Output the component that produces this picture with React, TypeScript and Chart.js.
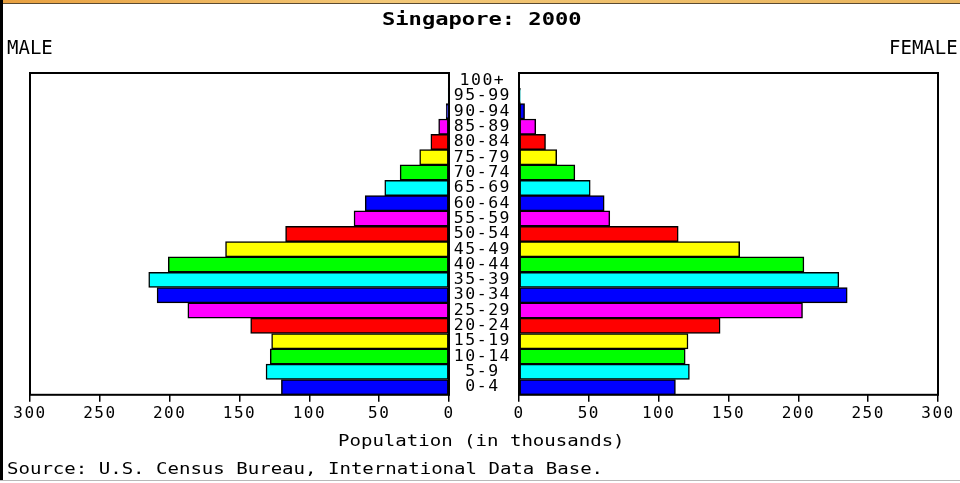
import React, { useEffect, useRef } from "react";
import { Chart, registerables } from "chart.js";

Chart.register(...registerables);

// ---- data (bottom to top) ----
const ageGroups = [
  "0-4", "5-9", "10-14", "15-19", "20-24", "25-29", "30-34", "35-39", "40-44", "45-49",
  "50-54", "55-59", "60-64", "65-69", "70-74", "75-79", "80-84", "85-89", "90-94", "95-99", "100+",
];
const maleValues = [120, 131, 128, 127, 142, 187, 209, 215, 201, 160, 117, 68, 60, 46, 35, 21, 13, 7.4, 2, 0.6, 0.2];
const femaleValues = [112, 122, 119, 121, 144, 203, 235, 229, 204, 158, 114, 65, 61, 51, 40, 27, 19, 12, 4, 1, 0.3];
const axisMax = 300;
const axisStep = 50;
const titleText = "Singapore: 2000";
const maleLabel = "MALE";
const femaleLabel = "FEMALE";
const axisTitle = "Population (in thousands)";
const sourceText = "Source: U.S. Census Bureau, International Data Base.";

const palette = ["#0000ff", "#00ffff", "#00ff00", "#ffff00", "#ff0000", "#ff00ff"];
const barColors = ageGroups.map((_, i) => palette[i % palette.length]);

const FONT = "'DejaVu Sans Mono', monospace";
const SPACING = "1.5px";

const spacingPlugin = {
  id: "letterSpacing",
  beforeUpdate(chart: any) {
    chart.ctx.letterSpacing = SPACING;
  },
  beforeLayout(chart: any) {
    chart.ctx.letterSpacing = SPACING;
  },
  beforeDraw(chart: any) {
    chart.ctx.letterSpacing = SPACING;
  },
};

const boxPlugin = {
  id: "boxPlugin",
  afterDatasetsDraw(chart: any) {
    const { left, top, right, bottom } = chart.chartArea;
    const ctx = chart.ctx;
    ctx.save();
    ctx.strokeStyle = "#000";
    ctx.lineWidth = 2;
    ctx.strokeRect(left, top, right - left, bottom - top);
    ctx.restore();
  },
};

function makeChart(canvas: HTMLCanvasElement, isMale: boolean) {
  const yAxis: any = {
    type: "category",
    reverse: true,
    display: !isMale,
    position: "left",
    ticks: {
      autoSkip: false,
      color: "#000",
      font: { family: FONT, size: 16.5 },
      crossAlign: "center",
      padding: 8,
    },
    grid: { display: false, drawTicks: false },
    border: { display: false },
  };
  if (!isMale) {
    yAxis.afterFit = (s: any) => {
      s.width = 70;
    };
  }
  return new Chart(canvas, {
    type: "bar",
    data: {
      labels: ageGroups,
      datasets: [
        {
          label: isMale ? "Male" : "Female",
          data: isMale ? maleValues : femaleValues,
          backgroundColor: barColors,
          borderColor: "#000",
          borderWidth: 1.5,
          borderSkipped: false,
          barPercentage: 1,
          categoryPercentage: 1,
        },
      ],
    },
    options: {
      indexAxis: "y",
      responsive: false,
      animation: false,
      events: [],
      layout: {
        padding: isMale
          ? { left: 30, right: 31, top: 73, bottom: 58 }
          : { left: 0, right: 22, top: 73, bottom: 58 },
      },
      plugins: {
        legend: { display: false },
        tooltip: { enabled: false },
      },
      scales: {
        x: {
          type: "linear",
          min: 0,
          max: axisMax,
          reverse: isMale,
          ticks: {
            stepSize: axisStep,
            color: "#000",
            font: { family: FONT, size: 16 },
            padding: 2,
            maxRotation: 0,
            autoSkip: false,
          },
          grid: {
            display: true,
            drawOnChartArea: false,
            drawTicks: true,
            tickLength: 7,
            color: "#000",
            lineWidth: 1.5,
          },
          border: { display: false },
        },
        y: yAxis,
      },
    } as any,
    plugins: [spacingPlugin, boxPlugin],
  });
}

const textBase: React.CSSProperties = {
  position: "absolute",
  fontFamily: FONT,
  fontSize: 16,
  lineHeight: "16px",
  color: "#000",
  whiteSpace: "nowrap",
  transformOrigin: "0 0",
};

export default function App() {
  const maleRef = useRef<HTMLCanvasElement>(null);
  const femaleRef = useRef<HTMLCanvasElement>(null);

  useEffect(() => {
    const m = makeChart(maleRef.current!, true);
    const f = makeChart(femaleRef.current!, false);
    return () => {
      m.destroy();
      f.destroy();
    };
  }, []);

  return (
    <div
      style={{
        position: "fixed",
        left: 0,
        top: 0,
        width: 960,
        height: 483,
        background: "#fff",
        overflow: "hidden",
      }}
    >
      {/* window frame */}
      <div style={{ position: "absolute", left: 0, top: 0, width: 960, height: 3, background: "linear-gradient(90deg,#e8a040,#f3c878 40%,#e9b45c)" }} />
      <div style={{ position: "absolute", left: 0, top: 3, width: 960, height: 1, background: "#5a4a30" }} />
      <div style={{ position: "absolute", left: 0, top: 0, width: 3, height: 480, background: "#000" }} />
      <div style={{ position: "absolute", left: 0, top: 480, width: 960, height: 1, background: "#b8b8b8" }} />

      <canvas ref={maleRef} width={480} height={483} style={{ position: "absolute", left: 0, top: 0 }} />
      <canvas ref={femaleRef} width={511} height={483} style={{ position: "absolute", left: 449, top: 0 }} />

      <div style={{ ...textBase, left: 382, top: 11, fontSize: 17, lineHeight: "17px", fontWeight: "bold", transform: "scaleX(1.3)" }}>{titleText}</div>
      <div style={{ ...textBase, left: 7, top: 38, fontSize: 19, lineHeight: "19px" }}>{maleLabel}</div>
      <div style={{ ...textBase, left: 889, top: 38, fontSize: 19, lineHeight: "19px" }}>{femaleLabel}</div>
      <div style={{ ...textBase, left: 338, top: 433, transform: "scaleX(1.19)" }}>{axisTitle}</div>
      <div style={{ ...textBase, left: 7, top: 461, transform: "scaleX(1.19)" }}>{sourceText}</div>
    </div>
  );
}
